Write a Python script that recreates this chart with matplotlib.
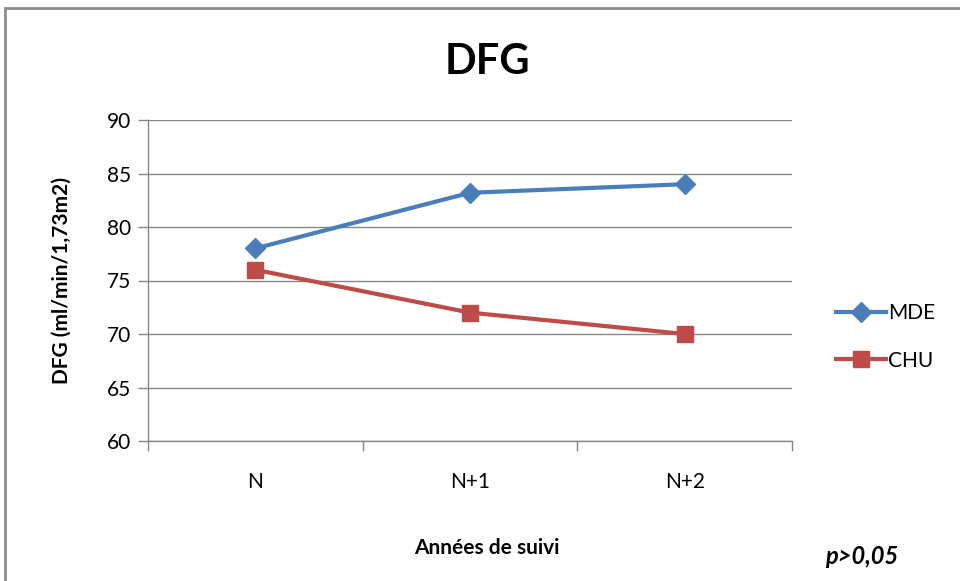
import matplotlib
matplotlib.use("Agg")
import matplotlib.pyplot as plt
from matplotlib.patches import Rectangle
from matplotlib.lines import Line2D

years = ["N", "N+1", "N+2"]
mde = [78, 83.2, 84]
chu = [76, 72, 70]
yticks = [60, 65, 70, 75, 80, 85, 90]

plt.rcParams['font.family'] = ['Lato', 'DejaVu Sans']

fig = plt.figure(figsize=(9.6, 5.81), dpi=100)
W, H = 960, 581
ax = fig.add_axes([148 / W, 1 - 441 / H, (792 - 148) / W, (441 - 120) / H])

# outer chart border
fig.patches.append(Rectangle((5 / W, -0.05), 1.2, 1 - 8 / H + 0.05,
                             transform=fig.transFigure, fill=False,
                             edgecolor="#8c8c8c", linewidth=2))

xs = [0.5, 1.5, 2.5]
blue = "#4a7ebb"
red = "#be4b48"
ax.plot(xs, mde, color=blue, linewidth=3, marker="D", markersize=10, label="MDE")
ax.plot(xs, chu, color=red, linewidth=3, marker="s", markersize=12, label="CHU")

ax.set_xlim(0, 3)
ax.set_ylim(60, 90)
ax.set_yticks(yticks)
ax.set_xticks([0, 1, 2, 3])
ax.set_xticklabels([])
ax.set_xticks(xs, minor=True)
ax.set_xticklabels(years, minor=True, fontsize=15)
ax.tick_params(axis="x", which="minor", length=0, pad=22)
ax.tick_params(axis="x", which="major", length=7, color="#868686", width=1)
ax.tick_params(axis="y", length=7, color="#868686", width=1, labelsize=15, pad=5)
ax.yaxis.grid(True, color="#868686", linewidth=1)
ax.set_axisbelow(True)
for s in ["top", "right"]:
    ax.spines[s].set_visible(False)
for s in ["left", "bottom"]:
    ax.spines[s].set_color("#868686")
    ax.spines[s].set_linewidth(1)

fig.text(62 / W, 1 - 280 / H, "DFG (ml/min/1,73m2)", fontsize=15, fontweight="bold",
         rotation=90, ha="center", va="center")
fig.text(487 / W, 1 - 548 / H, "Années de suivi", fontsize=15, fontweight="bold",
         ha="center", va="center")
fig.text(487 / W, 1 - 62 / H, "DFG", fontsize=30, fontweight="bold",
         ha="center", va="center")
fig.text(862 / W, 1 - 557 / H, "p>0,05", fontsize=17, fontweight="bold",
         style="italic", ha="center", va="center")

handles = [Line2D([], [], color=blue, linewidth=3, marker="D", markersize=10),
           Line2D([], [], color=red, linewidth=3, marker="s", markersize=12)]
fig.legend(handles, ["MDE", "CHU"], loc="center left",
           bbox_to_anchor=(817 / W, 1 - 337 / H), frameon=False, fontsize=15,
           handlelength=2.4, handletextpad=0.1, labelspacing=1.3)

fig.savefig("out.png", dpi=100)
